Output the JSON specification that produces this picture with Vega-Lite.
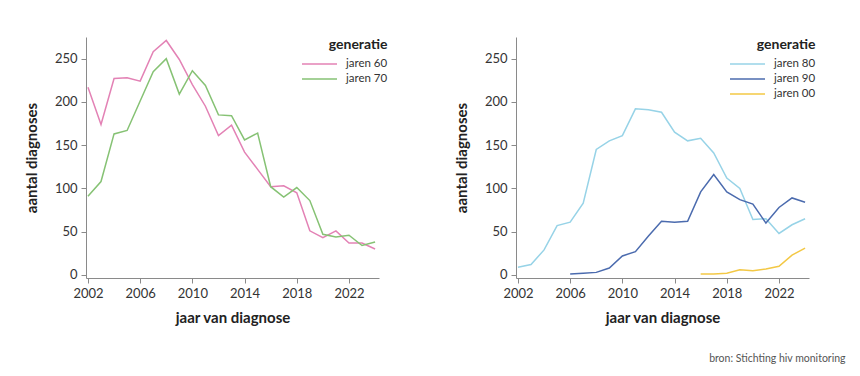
{
  "$schema": "https://vega.github.io/schema/vega-lite/v6.json",
  "background": "white",
  "padding": {"left": 24, "top": 37, "right": 10, "bottom": 6},
  "config": {
    "font": "Lato",
    "view": {"stroke": null},
    "axis": {
      "domainColor": "#8a8a8a",
      "tickColor": "#8a8a8a",
      "tickSize": 5,
      "grid": false,
      "labelColor": "#333333",
      "labelFontSize": 13,
      "labelFont": "Lato",
      "titleFont": "Lato",
      "titleFontSize": 15,
      "titleFontWeight": "bold",
      "titleColor": "#222222"
    },
    "legend": {
      "orient": "none",
      "legendY": 1,
      "padding": 0,
      "titleFont": "Lato",
      "titleFontSize": 14,
      "titleFontWeight": "bold",
      "titleColor": "#222222",
      "titleAnchor": "end",
      "titleAlign": "right",
      "titlePadding": 4,
      "labelFont": "Lato",
      "labelFontSize": 11.5,
      "labelColor": "#333333",
      "symbolType": "M-2.5,0H2.5",
      "symbolSize": 196,
      "symbolStrokeWidth": 1.5,
      "labelOffset": 18.5,
      "rowPadding": 1
    },
    "line": {"strokeWidth": 1.5}
  },
  "datasets": {
    "d": [
      {"paneel": "L", "generatie": "jaren 60", "jaar": 2002, "aantal": 217},
      {"paneel": "L", "generatie": "jaren 60", "jaar": 2003, "aantal": 174},
      {"paneel": "L", "generatie": "jaren 60", "jaar": 2004, "aantal": 227},
      {"paneel": "L", "generatie": "jaren 60", "jaar": 2005, "aantal": 228},
      {"paneel": "L", "generatie": "jaren 60", "jaar": 2006, "aantal": 224},
      {"paneel": "L", "generatie": "jaren 60", "jaar": 2007, "aantal": 258},
      {"paneel": "L", "generatie": "jaren 60", "jaar": 2008, "aantal": 271},
      {"paneel": "L", "generatie": "jaren 60", "jaar": 2009, "aantal": 249},
      {"paneel": "L", "generatie": "jaren 60", "jaar": 2010, "aantal": 220},
      {"paneel": "L", "generatie": "jaren 60", "jaar": 2011, "aantal": 195},
      {"paneel": "L", "generatie": "jaren 60", "jaar": 2012, "aantal": 161},
      {"paneel": "L", "generatie": "jaren 60", "jaar": 2013, "aantal": 173},
      {"paneel": "L", "generatie": "jaren 60", "jaar": 2014, "aantal": 142},
      {"paneel": "L", "generatie": "jaren 60", "jaar": 2015, "aantal": 122},
      {"paneel": "L", "generatie": "jaren 60", "jaar": 2016, "aantal": 102},
      {"paneel": "L", "generatie": "jaren 60", "jaar": 2017, "aantal": 103},
      {"paneel": "L", "generatie": "jaren 60", "jaar": 2018, "aantal": 95},
      {"paneel": "L", "generatie": "jaren 60", "jaar": 2019, "aantal": 51},
      {"paneel": "L", "generatie": "jaren 60", "jaar": 2020, "aantal": 43},
      {"paneel": "L", "generatie": "jaren 60", "jaar": 2021, "aantal": 51},
      {"paneel": "L", "generatie": "jaren 60", "jaar": 2022, "aantal": 37},
      {"paneel": "L", "generatie": "jaren 60", "jaar": 2023, "aantal": 37},
      {"paneel": "L", "generatie": "jaren 60", "jaar": 2024, "aantal": 30},
      {"paneel": "L", "generatie": "jaren 70", "jaar": 2002, "aantal": 91},
      {"paneel": "L", "generatie": "jaren 70", "jaar": 2003, "aantal": 108},
      {"paneel": "L", "generatie": "jaren 70", "jaar": 2004, "aantal": 163},
      {"paneel": "L", "generatie": "jaren 70", "jaar": 2005, "aantal": 167},
      {"paneel": "L", "generatie": "jaren 70", "jaar": 2006, "aantal": 201},
      {"paneel": "L", "generatie": "jaren 70", "jaar": 2007, "aantal": 235},
      {"paneel": "L", "generatie": "jaren 70", "jaar": 2008, "aantal": 250},
      {"paneel": "L", "generatie": "jaren 70", "jaar": 2009, "aantal": 209},
      {"paneel": "L", "generatie": "jaren 70", "jaar": 2010, "aantal": 236},
      {"paneel": "L", "generatie": "jaren 70", "jaar": 2011, "aantal": 219},
      {"paneel": "L", "generatie": "jaren 70", "jaar": 2012, "aantal": 185},
      {"paneel": "L", "generatie": "jaren 70", "jaar": 2013, "aantal": 184},
      {"paneel": "L", "generatie": "jaren 70", "jaar": 2014, "aantal": 156},
      {"paneel": "L", "generatie": "jaren 70", "jaar": 2015, "aantal": 164},
      {"paneel": "L", "generatie": "jaren 70", "jaar": 2016, "aantal": 102},
      {"paneel": "L", "generatie": "jaren 70", "jaar": 2017, "aantal": 90},
      {"paneel": "L", "generatie": "jaren 70", "jaar": 2018, "aantal": 101},
      {"paneel": "L", "generatie": "jaren 70", "jaar": 2019, "aantal": 86},
      {"paneel": "L", "generatie": "jaren 70", "jaar": 2020, "aantal": 47},
      {"paneel": "L", "generatie": "jaren 70", "jaar": 2021, "aantal": 44},
      {"paneel": "L", "generatie": "jaren 70", "jaar": 2022, "aantal": 46},
      {"paneel": "L", "generatie": "jaren 70", "jaar": 2023, "aantal": 34},
      {"paneel": "L", "generatie": "jaren 70", "jaar": 2024, "aantal": 38},
      {"paneel": "R", "generatie": "jaren 80", "jaar": 2002, "aantal": 9},
      {"paneel": "R", "generatie": "jaren 80", "jaar": 2003, "aantal": 12},
      {"paneel": "R", "generatie": "jaren 80", "jaar": 2004, "aantal": 29},
      {"paneel": "R", "generatie": "jaren 80", "jaar": 2005, "aantal": 57},
      {"paneel": "R", "generatie": "jaren 80", "jaar": 2006, "aantal": 61},
      {"paneel": "R", "generatie": "jaren 80", "jaar": 2007, "aantal": 83},
      {"paneel": "R", "generatie": "jaren 80", "jaar": 2008, "aantal": 145},
      {"paneel": "R", "generatie": "jaren 80", "jaar": 2009, "aantal": 155},
      {"paneel": "R", "generatie": "jaren 80", "jaar": 2010, "aantal": 161},
      {"paneel": "R", "generatie": "jaren 80", "jaar": 2011, "aantal": 192},
      {"paneel": "R", "generatie": "jaren 80", "jaar": 2012, "aantal": 191},
      {"paneel": "R", "generatie": "jaren 80", "jaar": 2013, "aantal": 188},
      {"paneel": "R", "generatie": "jaren 80", "jaar": 2014, "aantal": 165},
      {"paneel": "R", "generatie": "jaren 80", "jaar": 2015, "aantal": 155},
      {"paneel": "R", "generatie": "jaren 80", "jaar": 2016, "aantal": 158},
      {"paneel": "R", "generatie": "jaren 80", "jaar": 2017, "aantal": 141},
      {"paneel": "R", "generatie": "jaren 80", "jaar": 2018, "aantal": 112},
      {"paneel": "R", "generatie": "jaren 80", "jaar": 2019, "aantal": 100},
      {"paneel": "R", "generatie": "jaren 80", "jaar": 2020, "aantal": 64},
      {"paneel": "R", "generatie": "jaren 80", "jaar": 2021, "aantal": 65},
      {"paneel": "R", "generatie": "jaren 80", "jaar": 2022, "aantal": 48},
      {"paneel": "R", "generatie": "jaren 80", "jaar": 2023, "aantal": 58},
      {"paneel": "R", "generatie": "jaren 80", "jaar": 2024, "aantal": 65},
      {"paneel": "R", "generatie": "jaren 90", "jaar": 2006, "aantal": 1},
      {"paneel": "R", "generatie": "jaren 90", "jaar": 2007, "aantal": 2},
      {"paneel": "R", "generatie": "jaren 90", "jaar": 2008, "aantal": 3},
      {"paneel": "R", "generatie": "jaren 90", "jaar": 2009, "aantal": 8},
      {"paneel": "R", "generatie": "jaren 90", "jaar": 2010, "aantal": 22},
      {"paneel": "R", "generatie": "jaren 90", "jaar": 2011, "aantal": 27},
      {"paneel": "R", "generatie": "jaren 90", "jaar": 2012, "aantal": 45},
      {"paneel": "R", "generatie": "jaren 90", "jaar": 2013, "aantal": 62},
      {"paneel": "R", "generatie": "jaren 90", "jaar": 2014, "aantal": 61},
      {"paneel": "R", "generatie": "jaren 90", "jaar": 2015, "aantal": 62},
      {"paneel": "R", "generatie": "jaren 90", "jaar": 2016, "aantal": 96},
      {"paneel": "R", "generatie": "jaren 90", "jaar": 2017, "aantal": 116},
      {"paneel": "R", "generatie": "jaren 90", "jaar": 2018, "aantal": 96},
      {"paneel": "R", "generatie": "jaren 90", "jaar": 2019, "aantal": 87},
      {"paneel": "R", "generatie": "jaren 90", "jaar": 2020, "aantal": 82},
      {"paneel": "R", "generatie": "jaren 90", "jaar": 2021, "aantal": 60},
      {"paneel": "R", "generatie": "jaren 90", "jaar": 2022, "aantal": 78},
      {"paneel": "R", "generatie": "jaren 90", "jaar": 2023, "aantal": 89},
      {"paneel": "R", "generatie": "jaren 90", "jaar": 2024, "aantal": 84},
      {"paneel": "R", "generatie": "jaren 00", "jaar": 2016, "aantal": 1},
      {"paneel": "R", "generatie": "jaren 00", "jaar": 2017, "aantal": 1},
      {"paneel": "R", "generatie": "jaren 00", "jaar": 2018, "aantal": 2},
      {"paneel": "R", "generatie": "jaren 00", "jaar": 2019, "aantal": 6},
      {"paneel": "R", "generatie": "jaren 00", "jaar": 2020, "aantal": 5},
      {"paneel": "R", "generatie": "jaren 00", "jaar": 2021, "aantal": 7},
      {"paneel": "R", "generatie": "jaren 00", "jaar": 2022, "aantal": 10},
      {"paneel": "R", "generatie": "jaren 00", "jaar": 2023, "aantal": 23},
      {"paneel": "R", "generatie": "jaren 00", "jaar": 2024, "aantal": 31}
    ]
  },
  "hconcat": [
    {
      "width": 293,
      "height": 241,
      "data": {"name": "d"},
      "transform": [{"filter": "datum.paneel === 'L'"}],
      "mark": {"type": "line", "strokeWidth": 1.5},
      "encoding": {
        "x": {
          "field": "jaar", "type": "quantitative",
          "scale": {"domain": [2001.85, 2024.3], "nice": false, "zero": false},
          "axis": {"values": [2002, 2006, 2010, 2014, 2018, 2022], "format": "d", "title": "jaar van diagnose", "labelPadding": 4, "titlePadding": 10}
        },
        "y": {
          "field": "aantal", "type": "quantitative",
          "scale": {"domain": [-3.5, 275], "nice": false, "zero": false},
          "axis": {"values": [0, 50, 100, 150, 200, 250], "title": "aantal diagnoses", "labelPadding": 4, "titlePadding": 15}
        },
        "color": {
          "field": "generatie", "type": "nominal",
          "scale": {"domain": ["jaren 60", "jaren 70"], "range": ["#e382b5", "#86c274"]},
          "legend": {"title": "generatie", "legendX": 225.5}
        }
      }
    },
    {
      "width": 293,
      "height": 241,
      "data": {"name": "d"},
      "transform": [{"filter": "datum.paneel === 'R'"}],
      "mark": {"type": "line", "strokeWidth": 1.5},
      "encoding": {
        "x": {
          "field": "jaar", "type": "quantitative",
          "scale": {"domain": [2001.85, 2024.3], "nice": false, "zero": false},
          "axis": {"values": [2002, 2006, 2010, 2014, 2018, 2022], "format": "d", "title": "jaar van diagnose", "labelPadding": 4, "titlePadding": 10}
        },
        "y": {
          "field": "aantal", "type": "quantitative",
          "scale": {"domain": [-3.5, 275], "nice": false, "zero": false},
          "axis": {"values": [0, 50, 100, 150, 200, 250], "title": "aantal diagnoses", "labelPadding": 4, "titlePadding": 15}
        },
        "color": {
          "field": "generatie", "type": "nominal",
          "scale": {"domain": ["jaren 80", "jaren 90", "jaren 00"], "range": ["#97d3e7", "#4b6bae", "#f3c845"]},
          "legend": {"title": "generatie", "legendX": 223.5}
        }
      }
    }
  ],
  "spacing": 66,
  "resolve": {"scale": {"color": "independent", "x": "independent", "y": "independent"}, "legend": {"color": "independent"}},
  "title": {
    "text": "bron: Stichting hiv monitoring",
    "orient": "bottom",
    "anchor": "end",
    "fontSize": 10.5,
    "fontWeight": "normal",
    "color": "#555555",
    "font": "Lato",
    "offset": 29,
    "dx": 30
  }
}
